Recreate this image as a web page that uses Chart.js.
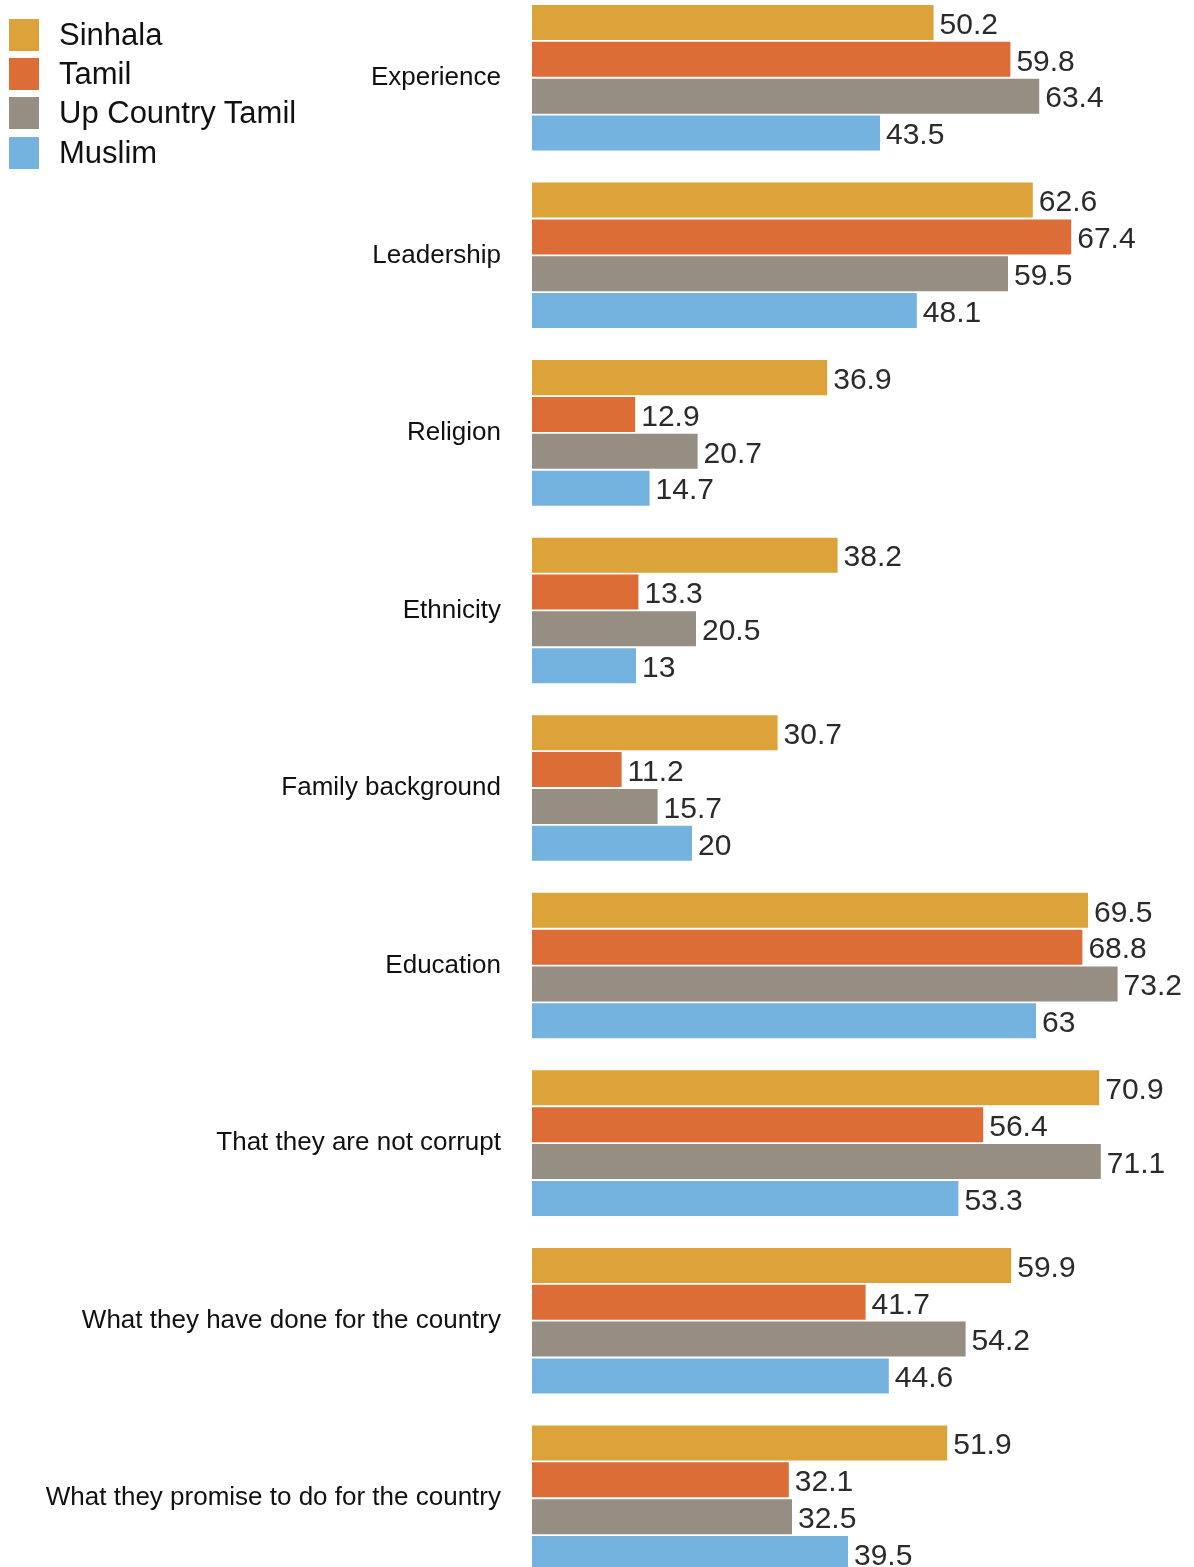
<!DOCTYPE html>
<html>
<head>
<meta charset="utf-8">
<script src="https://cdn.jsdelivr.net/npm/chart.js@4"></script>
<style>
  html, body { margin: 0; padding: 0; background: #fff; overflow: hidden; }
  body { width: 1194px; height: 1567px; position: relative; font-family: "Liberation Sans", Arial, sans-serif; }
  #wrap { position: absolute; left: 0; top: -11px; width: 1194px; height: 1598px; }
  #legend { position: absolute; left: 9px; top: 15px; z-index: 2; }
  .lg-row { display: flex; align-items: center; height: 39.3px; }
  .lg-box { width: 30px; height: 32px; margin-right: 20px; }
  .lg-text { font-size: 31px; color: #111; }
</style>
</head>
<body>
<div id="legend"></div>
<div id="wrap"><canvas id="chart"></canvas></div>
<script>
// ── Data ─────────────────────────────────────────────────────────
const categories = [
  'Experience', 'Leadership', 'Religion', 'Ethnicity', 'Family background',
  'Education', 'That they are not corrupt', 'What they have done for the country',
  'What they promise to do for the country'
];
const seriesNames = ['Sinhala', 'Tamil', 'Up Country Tamil', 'Muslim'];
const seriesColors = ['#DBA339', '#DC6D37', '#968D83', '#74B3E0'];

const sinhala       = [50.2, 62.6, 36.9, 38.2, 30.7, 69.5, 70.9, 59.9, 51.9];
const tamil         = [59.8, 67.4, 12.9, 13.3, 11.2, 68.8, 56.4, 41.7, 32.1];
const upCountry     = [63.4, 59.5, 20.7, 20.5, 15.7, 73.2, 71.1, 54.2, 32.5];
const muslim        = [43.5, 48.1, 14.7, 13.0, 20.0, 63.0, 53.3, 44.6, 39.5];
const seriesValues = [sinhala, tamil, upCountry, muslim];

// ── Legend (HTML) ────────────────────────────────────────────────
const legendEl = document.getElementById('legend');
seriesNames.forEach((name, i) => {
  const row = document.createElement('div');
  row.className = 'lg-row';
  row.innerHTML = '<div class="lg-box" style="background:' + seriesColors[i] + '"></div>' +
    '<span class="lg-text">' + name + '</span>';
  legendEl.appendChild(row);
});

// ── Value labels plugin ──────────────────────────────────────────
const valueLabels = {
  id: 'valueLabels',
  afterDatasetsDraw(chart) {
    const ctx = chart.ctx;
    ctx.save();
    ctx.font = '30px "Liberation Sans", Arial, sans-serif';
    ctx.fillStyle = '#2b2b2b';
    ctx.textAlign = 'left';
    ctx.textBaseline = 'middle';
    chart.data.datasets.forEach((ds, di) => {
      const meta = chart.getDatasetMeta(di);
      meta.data.forEach((bar, i) => {
        const v = ds.data[i];
        ctx.fillText(String(v), bar.x + 6, bar.y + 3);
      });
    });
    ctx.restore();
  }
};

new Chart(document.getElementById('chart'), {
  type: 'bar',
  data: {
    labels: categories,
    datasets: seriesNames.map((name, i) => ({
      label: name,
      data: seriesValues[i],
      backgroundColor: seriesColors[i],
      borderWidth: 0,
      categoryPercentage: 0.83,
      barPercentage: 0.95,
    })),
  },
  options: {
    indexAxis: 'y',
    responsive: true, maintainAspectRatio: false,
    animation: false,
    layout: { padding: { left: 0, right: 22, top: 0, bottom: 0 } },
    plugins: { legend: { display: false }, tooltip: { enabled: false } },
    scales: {
      x: { display: false, min: 0, max: 80 },
      y: {
        grid: { display: false, drawTicks: false },
        border: { display: false },
        afterFit(scale) {
          scale.width = 532;
          scale.paddingTop = 0;
          scale.paddingBottom = 0;
        },
        ticks: {
          color: '#111',
          padding: 31,
          font: { family: '"Liberation Sans", Arial, sans-serif', size: 26 },
        },
      },
    },
  },
  plugins: [valueLabels],
});
</script>
</body>
</html>
